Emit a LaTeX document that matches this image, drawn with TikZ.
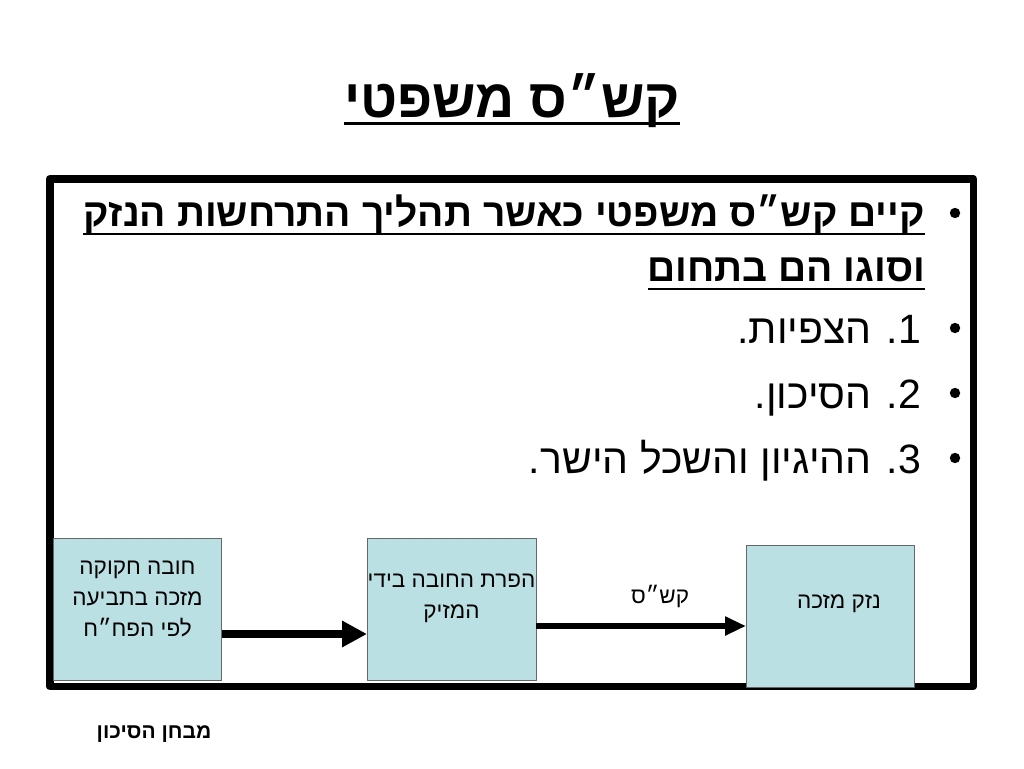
\documentclass[tikz,border=0pt]{standalone}
\usepackage{fontspec}
\usetikzlibrary{arrows.meta}
\newfontfamily\hebfont[Script=Hebrew]{Liberation Sans}
\TeXXeTstate=1
\newcommand{\heb}[1]{\beginR#1\endR}
\definecolor{boxblue}{RGB}{187,224,227}
\begin{document}
\begin{tikzpicture}[x=1pt,y=-1pt,line join=round,
    every node/.style={inner sep=0pt,outer sep=0pt},
    stepbox/.style={draw=black!60,line width=.8pt,fill=boxblue,minimum width=168pt,minimum height=142pt},
    boxtext/.style={font=\hebfont\fontsize{22.5}{31}\selectfont,align=center,anchor=base},
    bigtext/.style={font=\hebfont\bfseries\fontsize{39}{44}\selectfont,anchor=base east},
    listtext/.style={font=\hebfont\fontsize{41}{44}\selectfont,anchor=base east},
    uline/.style={line width=2.5pt},
    fatarrow/.style={-{Triangle[length=25pt,width=25pt]},line width=8pt},
    thinarrow/.style={-{Triangle[length=21pt,width=18pt]},line width=6pt}]
    \useasboundingbox (0,0) rectangle (1024,768);
    % title
    \node[font=\hebfont\bfseries\fontsize{54}{60}\selectfont,anchor=base] (title) at (512,117) {\heb{קש״ס משפטי}};
    \draw[line width=3pt] ([yshift=-6pt]title.base west) -- ([yshift=-6pt]title.base east);
    % frame
    \draw[line width=7.5pt] (49.75,178.75) rectangle (973.25,686.25);
    % bullets
    \foreach \y in {213,328,393,458} \fill (955,\y) circle (5.2pt);
    \node[bigtext] (rule1) at (925,226) {\heb{קיים קש״ס משפטי כאשר תהליך התרחשות הנזק}};
    \node[bigtext] (rule2) at (925,281) {\heb{וסוגו הם בתחום}};
    \foreach \n in {rule1,rule2}
        \draw[uline] ([yshift=-8pt]\n.base west) -- ([yshift=-8pt]\n.base east);
    \node[listtext] (tsfiut) at (921,343) {\heb{1. הצפיות.}};
    \node[listtext] (sikun) at (921,408) {\heb{2. הסיכון.}};
    \node[listtext] (higayon) at (921,473) {\heb{3. ההיגיון והשכל הישר.}};
    % boxes
    \node[stepbox] (hova) at (137.5,609) {};
    \node[stepbox,minimum width=169pt] (hafara) at (451.5,609) {};
    \node[stepbox] (nezek) at (830,616) {};
    \node[boxtext] (hovatext) at (137.5,636) {\heb{חובה חקוקה}\\\heb{מזכה בתביעה}\\\heb{לפי הפח״ח}};
    \node[boxtext] (hafaratext) at (451.5,618) {\heb{הפרת החובה בידי}\\\heb{המזיק}};
    \node[boxtext] (nezektext) at (839,608) {\heb{נזק מזכה}};
    \draw[fatarrow] ([yshift=-25pt]hova.east) -- ([yshift=-25pt]hafara.west);
    \draw[thinarrow] ([yshift=-17pt]hafara.east) -- ([yshift=-10pt]nezek.west);
    \node[boxtext] (kashas) at (660,603) {\heb{קש״ס}};
    % caption
    \node[font=\hebfont\bfseries\fontsize{21}{24}\selectfont,anchor=base] (mivhan) at (154,738) {\heb{מבחן הסיכון}};
\end{tikzpicture}
\end{document}
